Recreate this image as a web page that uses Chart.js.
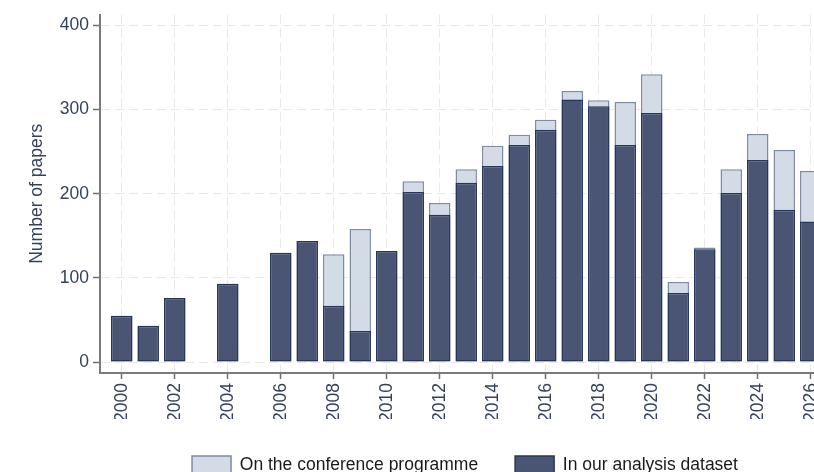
<!DOCTYPE html>
<html>
<head>
<meta charset="utf-8">
<script src="https://cdn.jsdelivr.net/npm/chart.js@4/dist/chart.umd.min.js"></script>
<style>
  html, body { margin: 0; padding: 0; background: #fff; overflow: hidden; }
  #wrap { width: 814px; height: 472px; overflow: hidden; position: relative; }
  canvas { display: block; }
</style>
</head>
<body>
<div id="wrap"><canvas id="c" width="930" height="484" style="width:930px;height:484px"></canvas></div>
<script>
// Data
const years      = [2000, 2001, 2002, 2004, 2006, 2007, 2008, 2009, 2010, 2011, 2012, 2013, 2014, 2015, 2016, 2017, 2018, 2019, 2020, 2021, 2022, 2023, 2024, 2025, 2026];
const programme  = [  55,   43,   76,   93,  130,  144,  128,  158,  132,  215,  189,  229,  257,  270,  288,  322,  311,  309,  342,   95,  136,  229,  271,  252,  227];
const dataset    = [  55,   43,   76,   93,  130,  144,   67,   37,  132,  202,  175,  213,  233,  258,  276,  312,  304,  258,  296,   82,  134,  201,  240,  181,  167];
const xTicks     = [2000, 2002, 2004, 2006, 2008, 2010, 2012, 2014, 2016, 2018, 2020, 2022, 2024, 2026];
const yTicks     = [0, 100, 200, 300, 400];
const seriesNames = ['On the conference programme', 'In our analysis dataset'];

const FONT = "'Liberation Sans', Arial, Helvetica, sans-serif";
const NAVY = '#33415f';
Chart.defaults.font.family = FONT;

const toPts = arr => years.map((y, i) => ({ x: y, y: arr[i] }));

new Chart(document.getElementById('c'), {
  type: 'bar',
  data: {
    datasets: [
      {
        label: seriesNames[1],
        data: toPts(dataset),
        backgroundColor: '#4a5573',
        borderColor: '#27375a',
        borderWidth: 1.5,
        borderSkipped: false,
        grouped: false,
        categoryPercentage: 1,
        barPercentage: 0.81
      },
      {
        label: seriesNames[0],
        data: toPts(programme),
        backgroundColor: '#d3dbe6',
        borderColor: '#7f8ba6',
        borderWidth: 1.5,
        borderSkipped: false,
        grouped: false,
        categoryPercentage: 1,
        barPercentage: 0.81
      }
    ]
  },
  options: {
    responsive: false,
    animation: false,
    layout: { padding: { top: 14, right: 0, left: 0, bottom: 0 } },
    plugins: {
      tooltip: { enabled: false },
      legend: {
        position: 'bottom',
        reverse: true,
        labels: {
          boxWidth: 39,
          boxHeight: 18,
          padding: 37,
          color: '#1a1a1a',
          font: { size: 17.5, family: FONT }
        }
      }
    },
    scales: {
      x: {
        type: 'linear',
        offset: false,
        min: 1999.18,
        max: 2030.5,
        afterBuildTicks: s => { s.ticks = xTicks.map(v => ({ value: v })); },
        afterFit: s => { s.height = 46; },
        ticks: {
          autoSkip: false,
          minRotation: 90,
          maxRotation: 90,
          padding: 4,
          color: NAVY,
          font: { size: 17.5, family: FONT },
          callback: v => String(v)
        },
        grid: {
          offset: false,
          color: '#e8e8e8',
          lineWidth: 1,
          tickLength: 6,
          tickColor: '#6e6e6e',
          tickWidth: 1.5
        },
        border: { display: true, color: '#7a7a7a', width: 2, dash: [9, 5] }
      },
      y: {
        type: 'linear',
        min: -13,
        max: 413,
        afterBuildTicks: s => { s.ticks = yTicks.map(v => ({ value: v })); },
        afterFit: s => { s.width = 100; },
        ticks: {
          padding: 4,
          color: NAVY,
          font: { size: 17.5, family: FONT },
          callback: v => String(v)
        },
        title: {
          display: true,
          text: 'Number of papers',
          color: NAVY,
          font: { size: 17.5, family: FONT },
          padding: { top: 27, bottom: 0 }
        },
        grid: {
          color: '#e8e8e8',
          lineWidth: 1,
          tickLength: 7,
          tickColor: '#6e6e6e',
          tickWidth: 1.5
        },
        border: { display: true, color: '#7a7a7a', width: 2, dash: [9, 5] }
      }
    }
  }
});
</script>
</body>
</html>
